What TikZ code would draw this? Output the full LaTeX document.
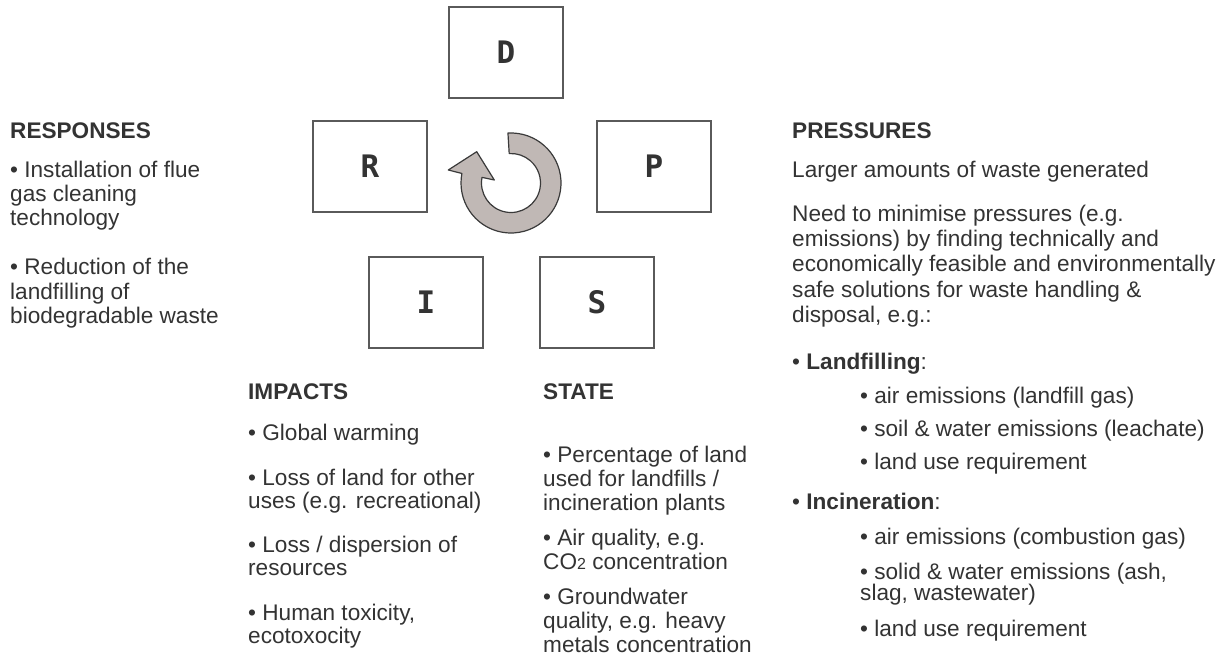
\documentclass[tikz,border=0pt]{standalone}
\usepackage{fontspec}
\usetikzlibrary{calc}
\setmainfont{Liberation Sans}
\newfontfamily\boxfont{DejaVu Sans Mono}
\definecolor{tc}{HTML}{333333}
\definecolor{boxc}{HTML}{5A5A5A}
\definecolor{arrfill}{HTML}{C0B8B5}
\definecolor{arrline}{HTML}{3A3A3A}
\newcommand\txtline[4]{\node[txt] (#1) at (#2,#3) {#4};}
\begin{document}
\begin{tikzpicture}[x=1pt,y=-1pt,
  txt/.style={anchor=base west,inner sep=0pt,text=tc,font=\fontsize{22.6}{25}\selectfont},
  dbox/.style={draw=boxc,line width=1.2pt,minimum width=114pt,minimum height=91pt,inner sep=0pt,
    text=tc,font=\boxfont\bfseries\fontsize{31}{31}\selectfont}]
\useasboundingbox (0,0) rectangle (1228,660);
% boxes
\node[dbox] (D) at (506,52.5) {D};
\node[dbox] (R) at (370,166.5) {R};
\node[dbox] (P) at (654,166.5) {P};
\node[dbox] (I) at (426,302.5) {I};
\node[dbox] (S) at (597,302.5) {S};
% circular arrow
\coordinate (C) at (511,183);
\filldraw[fill=arrfill,draw=arrline,line width=1.2pt,line join=round]
  ($(C)+(-93.5:50)$) arc[start angle=-93.5,end angle=191,radius=50]
  -- (448.3,170) -- (476.7,151.7) -- (494.3,180)
  -- ($(C)+(191:29.5)$) arc[start angle=191,end angle=-93.5,radius=29.5] -- cycle;
% RESPONSES
\txtline{resp}{10}{139}{\textbf{RESPONSES}}
\txtline{r1}{10}{178}{• Installation of flue}
\txtline{r2}{10}{202}{gas cleaning}
\txtline{r3}{10}{226}{technology}
\txtline{r4}{10}{275}{• Reduction of the}
\txtline{r5}{10}{299}{landfilling of}
\txtline{r6}{10}{323}{biodegradable waste}
% PRESSURES
\txtline{pres}{792}{139}{\textbf{PRESSURES}}
\txtline{p1}{792}{178}{Larger amounts of waste generated}
\txtline{p2}{792}{222}{Need to minimise pressures (e.g.}
\txtline{p3}{792}{247}{emissions) by finding technically and}
\txtline{p4}{792}{272}{economically feasible and environmentally}
\txtline{p5}{792}{297}{safe solutions for waste handling \&}
\txtline{p6}{792}{322}{disposal, e.g.:}
\txtline{p7}{792}{369}{• \textbf{Landfilling}:}
\txtline{p8}{860}{403}{• air emissions (landfill gas)}
\txtline{p9}{860}{436}{• soil \& water emissions (leachate)}
\txtline{p10}{860}{469}{• land use requirement}
\txtline{p11}{792}{509}{• \textbf{Incineration}:}
\txtline{p12}{860}{544}{• air emissions (combustion gas)}
\txtline{p13}{860}{579}{• solid \& water emissions (ash,}
\txtline{p14}{860}{600}{slag, wastewater)}
\txtline{p15}{860}{636}{• land use requirement}
% IMPACTS
\txtline{imp}{248}{399}{\textbf{IMPACTS}}
\txtline{i1}{248}{440}{• Global warming}
\txtline{i2}{248}{485}{• Loss of land for other}
\txtline{i3}{248}{508}{uses (e.g. recreational)}
\txtline{i4}{248}{552}{• Loss / dispersion of}
\txtline{i5}{248}{575}{resources}
\txtline{i6}{248}{620}{• Human toxicity,}
\txtline{i7}{248}{643}{ecotoxocity}
% STATE
\txtline{st}{543}{399}{\textbf{STATE}}
\txtline{s1}{543}{462}{• Percentage of land}
\txtline{s2}{543}{486}{used for landfills /}
\txtline{s3}{543}{510}{incineration plants}
\txtline{s4}{543}{545}{• Air quality, e.g.}
\txtline{s5}{543}{569}{CO{\fontsize{16}{16}\selectfont 2} concentration}
\txtline{s6}{543}{604}{• Groundwater}
\txtline{s7}{543}{628}{quality, e.g. heavy}
\txtline{s8}{543}{652}{metals concentration}
\end{tikzpicture}
\end{document}
